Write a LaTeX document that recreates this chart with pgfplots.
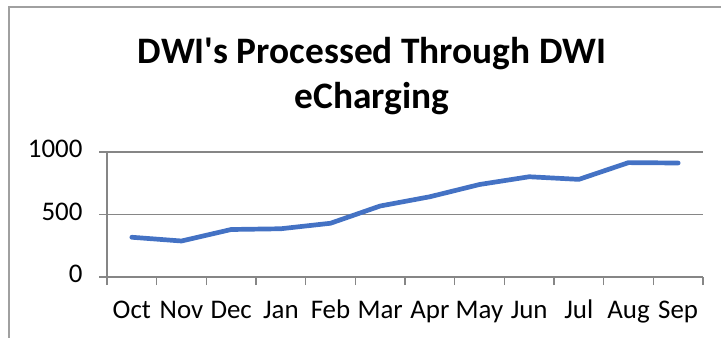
\documentclass[border=0pt]{standalone}
\usepackage{pgfplots}
\pgfplotsset{compat=1.18}
\usepackage{fontspec}
\setmainfont{Carlito}[Ligatures=TeXOff]
\definecolor{lineblue}{RGB}{68,114,196}
\definecolor{gridgray}{RGB}{134,134,134}
\definecolor{framegray}{RGB}{160,160,160}
\begin{document}
\begin{tikzpicture}[x=1bp,y=1bp]
\path[use as bounding box] (-107,-60) rectangle (614,277);
\begin{scope}
  \clip (-107,-60) rectangle (614,277);
  \draw[color=framegray, line width=1.3bp] (-98,-90) rectangle (650,270);
\end{scope}
% chart title, two centred lines
\node[font=\bfseries\fontsize{37.5}{42}\selectfont, anchor=base] at (265,214)
  {DWI's Processed Through DWI};
\node[font=\bfseries\fontsize{37.5}{42}\selectfont, anchor=base] at (265,169)
  {eCharging};
\begin{axis}[
  at={(0,0)}, anchor=south west,
  scale only axis, width=596bp, height=125bp,
  xmin=0, xmax=12, ymin=0, ymax=1000,
  axis lines*=left,
  axis line style={draw=gridgray, line width=1.2bp},
  xtick={0,...,12},
  xticklabels={Oct,Nov,Dec,Jan,Feb,Mar,Apr,May,Jun,Jul,Aug,Sep},
  x tick label as interval,
  ytick={0,500,1000},
  ymajorgrids,
  grid style={draw=gridgray, line width=1.2bp},
  tick align=outside,
  major tick length=8bp,
  tick style={draw=gridgray, line width=1.2bp},
  ticklabel style={font=\fontsize{27}{30}\selectfont},
  typeset ticklabels with strut,
  xticklabel style={yshift=-9bp},
  yticklabel style={xshift=-13bp},
  /pgf/number format/assume math mode=true,
  /pgf/number format/1000 sep={},
  clip=false,
]
\addplot[color=lineblue, line width=4.7bp, line join=round, line cap=round] coordinates {
  (0.5,318) (1.5,288) (2.5,380) (3.5,386) (4.5,430) (5.5,568)
  (6.5,642) (7.5,740) (8.5,802) (9.5,781) (10.5,915) (11.5,912)
};
\end{axis}
\end{tikzpicture}
\end{document}
